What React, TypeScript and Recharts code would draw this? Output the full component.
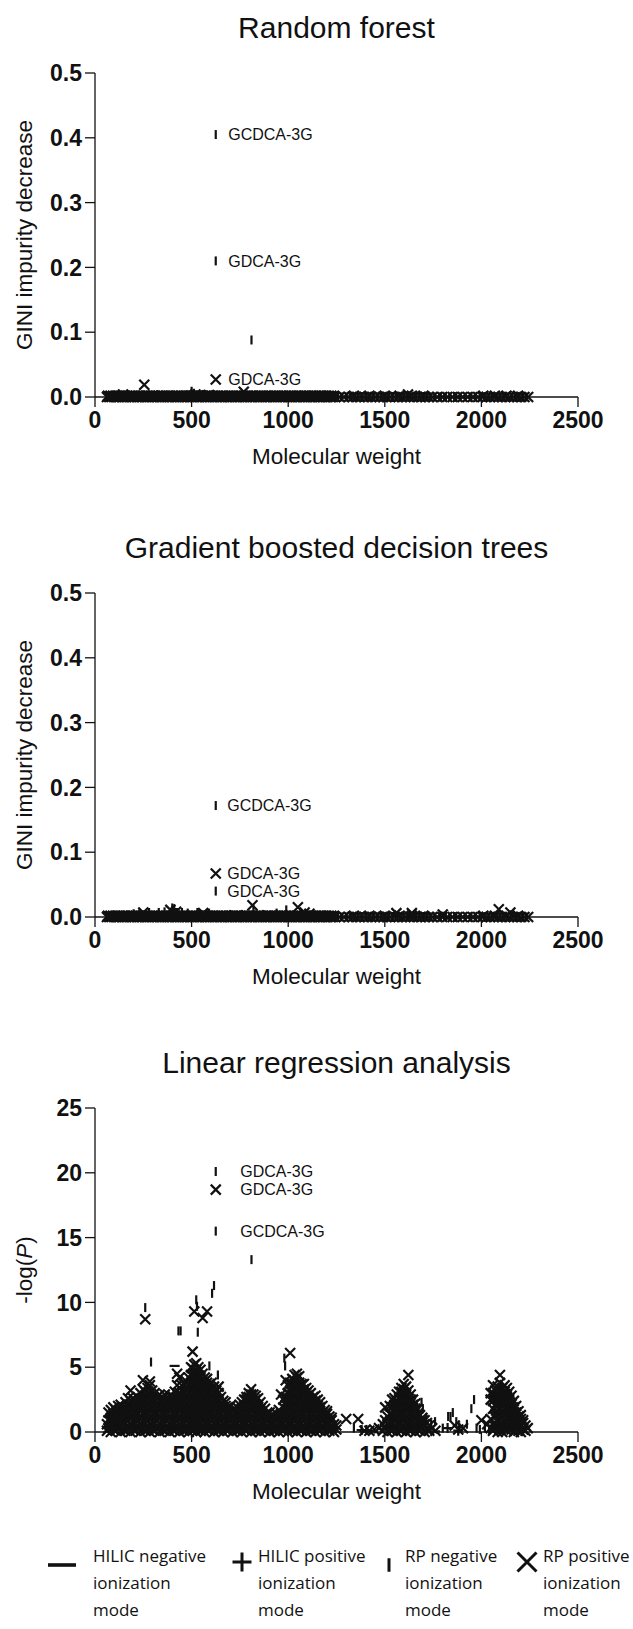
import React from "react";
import { ScatterChart, Scatter, XAxis, YAxis, LabelList, Label } from "recharts";

// axis ticks
const mwTicks = [0, 500, 1000, 1500, 2000, 2500];
const giniTicks = [0, 0.1, 0.2, 0.3, 0.4, 0.5];
const logPTicks = [0, 5, 10, 15, 20, 25];

// features with ~zero importance in both tree models (molecular weight only)
const bandRpPos = [
  62, 74, 85, 99, 112, 124, 139, 151, 163, 178, 190, 203, 217, 229, 242, 256, 268, 281, 295, 307,
  320, 334, 346, 359, 373, 385, 398, 412, 424, 437, 451, 463, 476, 490, 502, 515, 529, 541, 554, 568,
  580, 593, 607, 619, 632, 646, 658, 671, 685, 697, 710, 724, 736, 749, 763, 775, 788, 802, 814, 827,
  841, 853, 866, 880, 892, 905, 919, 931, 944, 958, 970, 983, 997, 1009, 1022, 1036, 1048, 1061, 1075,
  1087, 1100, 1114, 1126, 1139, 1153, 1165, 1178, 1192, 1204, 1217, 1231, 1243, 1266, 1288, 1314,
  1333, 1352, 1371, 1393, 1412, 1431, 1450, 1472, 1491, 1510, 1529, 1551, 1570, 1589, 1608, 1630,
  1649, 1668, 1687, 1709, 1728, 1747, 1771, 1797, 1823, 1851, 1877, 1903, 1929, 1955, 1983, 2006,
  2027, 2046, 2065, 2087, 2106, 2125, 2144, 2166, 2185, 2204, 2223, 2242,
];
// second group, importance ~0.002
const bandRpPosLow = [
  67, 80, 93, 105, 118, 131, 146, 157, 169, 184, 196, 209, 223, 235, 248, 262, 274, 287, 301, 313,
  327, 340, 352, 366, 379, 391, 404, 418, 430, 444, 457, 469, 482, 496, 508, 521, 535, 547, 560, 574,
  586, 599, 613, 625, 638, 652, 664, 677, 691, 703, 716, 730, 742, 755, 769, 781, 794, 808, 820, 833,
  847, 859, 872, 886, 898, 911, 925, 937, 950, 964, 976, 989, 1003, 1015, 1028, 1042, 1054, 1067,
  1081, 1093, 1106, 1120, 1132, 1145, 1159, 1171, 1184, 1198, 1210, 1223, 1237, 1340, 1420, 1500,
  1577, 1640, 1700, 2010, 2070, 2130, 2190,
];
const bandRpNeg = [
  68, 93, 118, 145, 171, 196, 223, 249, 274, 301, 327, 352, 379, 405, 430, 457, 483, 508, 535, 561,
  586, 613, 639, 664, 691, 717, 742, 769, 795, 820, 847, 873, 898, 925, 951, 976, 1003, 1029, 1054,
  1081, 1107, 1132, 1159, 1185, 1210, 1237, 1278, 1301, 1323, 1344, 1362, 1382, 1402, 1421, 1441,
  1460, 1481, 1500, 1520, 1540, 1560, 1579, 1599, 1619, 1639, 1658, 1678, 1698, 1718, 1738, 1759,
  1784, 1790, 1810, 1816, 1836, 1864, 1870, 1890, 1916, 1942, 1948, 1968, 1994, 2016, 2036, 2056,
  2076, 2096, 2116, 2135, 2155, 2175, 2195, 2214, 2233,
];
const bandHilicNeg = [
  80, 130, 185, 240, 290, 345, 395, 450, 505, 560, 610, 665, 720, 775, 830, 885, 940, 995, 1050,
  1105, 1160, 1215, 1300, 1460, 1620, 1780, 1940, 2100,
];
const bandHilicPos = [
  105, 160, 215, 265, 320, 370, 425, 480, 530, 585, 640, 695, 750, 805, 860, 910, 965, 1020, 1075,
  1130, 1185, 1240, 1380, 1540, 1700, 1860, 2020, 2180,
];

// random forest: [mw, importance]
const rfRpPos = [[145, 0.004], [255, 0.019], [520, 0.004], [770, 0.008], [1620, 0.004], [300, 0.002], [590, 0.003]];
const rfRpNeg = [[810, 0.088], [470, 0.003], [560, 0.004]];
const rfHilicPos = [[500, 0.008], [512, 0.005]];
const rfTagged = [
  { mw: 625, v: 0.405, kind: "rpNeg", tag: "GCDCA-3G" },
  { mw: 625, v: 0.21, kind: "rpNeg", tag: "GDCA-3G" },
  { mw: 625, v: 0.027, kind: "rpPos", tag: "GDCA-3G" },
];

// gradient boosted trees: [mw, importance]
const gbRpPos = [
  [250, 0.007], [390, 0.011], [420, 0.008], [560, 0.006], [815, 0.018], [1050, 0.015], [1085, 0.007],
  [1110, 0.005], [1560, 0.006], [1640, 0.006], [1800, 0.004], [2090, 0.012], [2150, 0.007],
];
const gbRpNeg = [
  [200, 0.005], [230, 0.006], [330, 0.007], [360, 0.008], [400, 0.014], [450, 0.007], [480, 0.006],
  [540, 0.005], [590, 0.006], [700, 0.004], [760, 0.004], [820, 0.012], [870, 0.004], [940, 0.006],
  [990, 0.011],
];
const gbHilicPos = [[280, 0.006], [410, 0.012], [530, 0.006]];
const gbTagged = [
  { mw: 625, v: 0.172, kind: "rpNeg", tag: "GCDCA-3G" },
  { mw: 625, v: 0.067, kind: "rpPos", tag: "GDCA-3G" },
  { mw: 625, v: 0.04, kind: "rpNeg", tag: "GDCA-3G" },
];

// linear regression: rows of [mw, -log(P) values...]
const lrRpPos = [
  [62, 0.1, 0.6], [70, 0.3, 0.9, 1.5], [82, 0.0, 0.5, 1.1, 1.7], [95, 0.2, 0.8, 1.4, 1.9],
  [108, 0.1, 0.6, 1.2, 1.7], [120, 0.3, 0.9, 1.5, 2.0], [133, 0.0, 0.5, 1.1, 1.6, 2.1],
  [146, 0.2, 0.8, 1.4, 1.9], [158, 0.1, 0.7, 1.3, 1.8, 2.3], [171, 0.3, 0.9, 1.5, 2.1, 2.6],
  [184, 0.0, 0.6, 1.2, 1.8, 2.4, 3.2], [197, 0.2, 0.8, 1.4, 2.0, 2.6], [210, 0.1, 0.7, 1.3, 1.9, 2.4],
  [222, 0.3, 0.9, 1.5, 2.1, 2.7], [235, 0.0, 0.6, 1.2, 1.8, 2.4, 3.0], [248, 0.2, 0.8, 1.4, 2.0, 2.6, 3.3, 4.0],
  [260, 0.1, 0.7, 1.3, 1.9, 2.5, 3.1, 8.7], [272, 0.3, 0.9, 1.5, 2.1, 2.7, 3.4],
  [284, 0.0, 0.6, 1.2, 1.8, 2.4, 3.0, 3.6, 3.9], [296, 0.2, 0.8, 1.4, 2.0, 2.6, 3.2],
  [309, 0.1, 0.7, 1.3, 1.9, 2.5, 3.0], [322, 0.3, 0.9, 1.5, 2.1, 2.7], [335, 0.0, 0.6, 1.2, 1.8, 2.4, 2.9],
  [348, 0.2, 0.8, 1.4, 2.0, 2.6], [361, 0.1, 0.7, 1.3, 1.9, 2.5, 2.9], [374, 0.3, 0.9, 1.5, 2.1, 2.5],
  [387, 0.0, 0.6, 1.2, 1.8, 2.4, 2.8], [400, 0.2, 0.8, 1.4, 2.0, 2.6, 2.8], [413, 0.1, 0.7, 1.3, 1.9, 2.5, 3.1],
  [425, 0.3, 0.9, 1.5, 2.1, 2.7, 3.6, 4.5], [437, 0.0, 0.6, 1.2, 1.8, 2.4, 3.0, 4.2],
  [449, 0.2, 0.8, 1.4, 2.0, 2.6, 3.2, 3.6], [461, 0.1, 0.7, 1.3, 1.9, 2.5, 3.1, 3.7],
  [473, 0.3, 0.9, 1.5, 2.1, 2.7, 3.3, 3.9], [485, 0.0, 0.6, 1.2, 1.8, 2.4, 3.0, 3.6, 4.2],
  [497, 0.2, 0.8, 1.4, 2.0, 2.6, 3.2, 3.8, 4.4, 5.0], [505, 0.1, 0.7, 1.3, 1.9, 2.5, 3.1, 3.7, 4.3, 4.9, 6.2],
  [514, 0.3, 0.9, 1.5, 2.1, 2.7, 3.3, 3.9, 4.5, 5.2, 9.3], [524, 0.0, 0.6, 1.2, 1.8, 2.4, 3.0, 3.6, 4.2, 4.8, 5.3],
  [535, 0.2, 0.8, 1.4, 2.0, 2.6, 3.2, 3.8, 4.4, 5.0], [546, 0.1, 0.7, 1.3, 1.9, 2.5, 3.1, 3.7, 4.3, 4.8],
  [557, 0.3, 0.9, 1.5, 2.1, 2.7, 3.3, 3.9, 4.5, 8.8], [568, 0.0, 0.6, 1.2, 1.8, 2.4, 3.0, 3.6, 4.2],
  [580, 0.2, 0.8, 1.4, 2.0, 2.6, 3.2, 3.8, 4.1, 9.3], [592, 0.1, 0.7, 1.3, 1.9, 2.5, 3.1, 3.7],
  [604, 0.3, 0.9, 1.5, 2.1, 2.7, 3.3, 3.8], [616, 0.0, 0.6, 1.2, 1.8, 2.4, 3.0, 3.5],
  [628, 0.2, 0.8, 1.4, 2.0, 2.6, 3.2], [640, 0.1, 0.7, 1.3, 1.9, 2.5, 3.0, 3.5], [652, 0.3, 0.9, 1.5, 2.1, 2.7],
  [664, 0.0, 0.6, 1.2, 1.8, 2.4], [676, 0.2, 0.8, 1.4, 2.0, 2.3], [688, 0.1, 0.7, 1.3, 1.9],
  [700, 0.3, 0.9, 1.5, 2.0], [712, 0.0, 0.6, 1.2, 1.7], [724, 0.2, 0.8, 1.4, 1.8], [736, 0.1, 0.7, 1.3, 1.9],
  [748, 0.3, 0.9, 1.5, 2.1], [760, 0.0, 0.6, 1.2, 1.8, 2.3], [772, 0.2, 0.8, 1.4, 2.0, 2.5],
  [784, 0.1, 0.7, 1.3, 1.9, 2.5, 2.7], [796, 0.3, 0.9, 1.5, 2.1, 2.7, 3.0], [808, 0.0, 0.6, 1.2, 1.8, 2.4, 2.9, 3.3],
  [820, 0.2, 0.8, 1.4, 2.0, 2.6, 2.9], [832, 0.1, 0.7, 1.3, 1.9, 2.5, 2.8], [844, 0.3, 0.9, 1.5, 2.1, 2.6],
  [856, 0.0, 0.6, 1.2, 1.8, 2.3], [868, 0.2, 0.8, 1.4, 2.0], [880, 0.1, 0.7, 1.3, 1.8], [892, 0.3, 0.9, 1.5],
  [904, 0.0, 0.6, 1.2, 1.5], [916, 0.2, 0.8, 1.3], [928, 0.1, 0.7, 1.2], [940, 0.3, 0.9, 1.4],
  [952, 0.0, 0.6, 1.2, 1.7], [963, 0.2, 0.8, 1.4, 2.9], [975, 0.1, 0.7, 1.3, 1.9, 2.5],
  [987, 0.3, 0.9, 1.5, 2.1, 2.7, 4.0], [998, 0.0, 0.6, 1.2, 1.8, 2.4, 3.0, 3.6],
  [1010, 0.2, 0.8, 1.4, 2.0, 2.6, 3.2, 3.8, 6.1], [1021, 0.1, 0.7, 1.3, 1.9, 2.5, 3.1, 3.7, 4.1],
  [1033, 0.3, 0.9, 1.5, 2.1, 2.7, 3.3, 3.9, 4.4], [1045, 0.0, 0.6, 1.2, 1.8, 2.4, 3.0, 3.6, 4.2, 4.5],
  [1057, 0.2, 0.8, 1.4, 2.0, 2.6, 3.2, 3.8, 4.3], [1069, 0.1, 0.7, 1.3, 1.9, 2.5, 3.1, 3.7],
  [1081, 0.3, 0.9, 1.5, 2.1, 2.7, 3.3, 3.7], [1093, 0.0, 0.6, 1.2, 1.8, 2.4, 3.0, 3.4],
  [1105, 0.2, 0.8, 1.4, 2.0, 2.6, 3.2], [1117, 0.1, 0.7, 1.3, 1.9, 2.5, 3.0], [1129, 0.3, 0.9, 1.5, 2.1, 2.7],
  [1141, 0.0, 0.6, 1.2, 1.8, 2.4, 2.8], [1153, 0.2, 0.8, 1.4, 2.0, 2.5], [1165, 0.1, 0.7, 1.3, 1.9, 2.3],
  [1177, 0.3, 0.9, 1.5, 2.0], [1189, 0.0, 0.6, 1.2, 1.7], [1201, 0.2, 0.8, 1.4, 1.6], [1213, 0.1, 0.7, 1.2],
  [1225, 0.3, 0.9, 1.1], [1237, 0.0, 0.6], [1249, 0.2, 0.5], [1300, 1.0], [1362, 1.0], [1395, 0.1],
  [1420, 0.1], [1445, 0.2], [1470, 0.3], [1490, 0.1, 0.6], [1502, 0.3, 0.9, 1.9], [1514, 0.0, 0.6, 1.2],
  [1526, 0.2, 0.8, 1.4, 2.0], [1538, 0.1, 0.7, 1.3, 1.9, 2.5], [1550, 0.3, 0.9, 1.5, 2.1, 2.6],
  [1562, 0.0, 0.6, 1.2, 1.8, 2.4, 2.9], [1574, 0.2, 0.8, 1.4, 2.0, 2.6, 3.1],
  [1586, 0.1, 0.7, 1.3, 1.9, 2.5, 3.1, 3.4], [1598, 0.3, 0.9, 1.5, 2.1, 2.7, 3.3, 3.7],
  [1610, 0.0, 0.6, 1.2, 1.8, 2.4, 3.0, 3.5], [1622, 0.2, 0.8, 1.4, 2.0, 2.6, 3.2, 4.4],
  [1634, 0.1, 0.7, 1.3, 1.9, 2.5, 2.9], [1646, 0.3, 0.9, 1.5, 2.1, 2.5], [1658, 0.0, 0.6, 1.2, 1.8, 2.2],
  [1670, 0.2, 0.8, 1.4, 1.8], [1682, 0.1, 0.7, 1.3], [1694, 0.3, 0.9, 1.1], [1706, 0.0, 0.6, 0.9],
  [1718, 0.2, 0.7], [1730, 0.1, 0.5], [1745, 0.3], [1762, 0.1], [1862, 0.5], [1880, 0.2], [1905, 0.3],
  [2000, 0.9], [2030, 0.6], [2048, 0.3, 1.0, 2.5, 3.0], [2060, 0.1, 1.8, 2.4, 3.0, 3.6],
  [2072, 0.4, 1.2, 2.0, 2.6, 3.2], [2084, 0.0, 0.8, 1.6, 2.3, 2.9, 3.5], [2096, 0.2, 1.1, 1.9, 2.6, 3.2, 3.8, 4.4],
  [2108, 0.0, 0.7, 1.5, 2.2, 2.8, 3.4], [2120, 0.3, 1.0, 1.8, 2.5, 3.1, 3.6], [2132, 0.1, 0.8, 1.6, 2.3, 2.9, 3.4],
  [2144, 0.4, 1.2, 1.9, 2.6, 3.1], [2156, 0.2, 0.9, 1.6, 2.2, 2.8], [2168, 0.0, 0.6, 1.3, 1.9, 2.4],
  [2180, 0.3, 0.9, 1.5, 2.0], [2192, 0.1, 0.7, 1.2, 1.6], [2204, 0.0, 0.5, 1.0, 1.3], [2216, 0.2, 0.7, 0.9],
  [2228, 0.1, 0.5], [2240, 0.3],
];
const lrRpNeg = [
  [260, 9.6], [290, 5.4], [432, 7.8], [443, 7.8], [524, 10.2], [528, 9.7], [532, 7.7], [592, 5.1],
  [606, 10.7], [616, 11.3], [636, 4.4], [810, 13.3], [980, 5.7], [984, 5.1], [1340, 0.3], [1405, 0.2],
  [1690, 2.3], [1697, 1.8], [1715, 1.1], [1740, 0.6], [1760, 0.8], [1800, 0.3], [1828, 1.2], [1840, 1.2],
  [1852, 1.5], [1870, 0.8], [1885, 0.4], [1925, 0.6], [1948, 1.8], [1962, 2.5], [1975, 0.3], [1992, 0.2],
  [2018, 0.3], [2040, 0.2], [2110, 0.2], [2130, 0.4], [2190, 0.2],
  [66, 0.3, 1.0], [90, 0.4, 1.1, 1.6], [114, 0.3, 1.0, 1.6], [139, 0.4, 1.1, 1.8], [164, 0.3, 1.0, 1.7, 2.1],
  [190, 0.4, 1.1, 1.8, 2.3], [216, 0.3, 1.0, 1.7, 2.2], [241, 0.4, 1.1, 1.8, 2.5], [266, 0.3, 1.0, 1.7, 2.4, 3.0],
  [293, 0.4, 1.1, 1.8, 2.5, 3.2], [315, 0.3, 1.0, 1.7, 2.4], [341, 0.4, 1.1, 1.8, 2.4], [367, 0.3, 1.0, 1.7, 2.2],
  [393, 0.4, 1.1, 1.8, 2.4], [419, 0.3, 1.0, 1.7, 2.4, 3.0], [447, 0.4, 1.1, 1.8, 2.5, 3.2],
  [467, 0.3, 1.0, 1.7, 2.4, 3.1, 3.5], [491, 0.4, 1.1, 1.8, 2.5, 3.2, 3.9], [509, 0.3, 1.0, 1.7, 2.4, 3.1, 3.8, 4.5],
  [529, 0.4, 1.1, 1.8, 2.5, 3.2, 3.9, 4.6], [551, 0.3, 1.0, 1.7, 2.4, 3.1, 3.8], [574, 0.4, 1.1, 1.8, 2.5, 3.2, 3.7],
  [598, 0.3, 1.0, 1.7, 2.4, 3.1], [622, 0.4, 1.1, 1.8, 2.5, 3.0], [646, 0.3, 1.0, 1.7, 2.4], [670, 0.4, 1.1, 1.8],
  [694, 0.3, 1.0, 1.6], [718, 0.4, 1.1], [742, 0.3, 1.0, 1.7], [766, 0.4, 1.1, 1.8], [790, 0.3, 1.0, 1.7, 2.3],
  [814, 0.4, 1.1, 1.8, 2.5], [838, 0.3, 1.0, 1.7, 2.2], [862, 0.4, 1.1, 1.7], [886, 0.3, 1.0, 1.4], [910, 0.4, 1.0],
  [934, 0.3, 0.9], [958, 0.4, 1.1], [981, 0.3, 1.0, 1.7, 2.2], [1004, 0.4, 1.1, 1.8, 2.5, 3.1],
  [1027, 0.3, 1.0, 1.7, 2.4, 3.1, 3.7], [1051, 0.4, 1.1, 1.8, 2.5, 3.2, 3.8], [1075, 0.3, 1.0, 1.7, 2.4, 3.1],
  [1099, 0.4, 1.1, 1.8, 2.5, 3.0], [1123, 0.3, 1.0, 1.7, 2.4], [1147, 0.4, 1.1, 1.8, 2.2], [1171, 0.3, 1.0, 1.7],
  [1195, 0.4, 1.1], [1219, 0.3, 0.8], [1243, 0.3], [1532, 0.3, 1.0], [1556, 0.4, 1.1, 1.8],
  [1580, 0.3, 1.0, 1.7, 2.4], [1604, 0.4, 1.1, 1.8, 2.5, 3.0], [1628, 0.3, 1.0, 1.7, 2.4], [1652, 0.4, 1.1, 1.8],
  [1676, 0.3, 1.0], [1700, 0.4], [2054, 0.6, 1.6], [2078, 0.5, 1.4, 2.3, 2.9], [2102, 0.4, 1.3, 2.1, 2.9, 3.5],
  [2126, 0.6, 1.5, 2.2, 2.9], [2150, 0.5, 1.3, 2.0], [2174, 0.4, 1.1, 1.6], [2198, 0.3, 0.8],
];
const lrHilicNeg = [[150, 1.2], [330, 2.1], [412, 5.1], [700, 1.0], [1395, 0.05], [1435, 0.1], [1760, 0.05]];
const lrHilicPos = [
  [76, 0.4, 1.2], [101, 0.3, 1.0, 1.6], [127, 0.5, 1.3, 1.9], [152, 0.2, 1.0, 1.7], [177, 0.4, 1.2, 2.0],
  [203, 0.3, 1.1, 1.9], [228, 0.5, 1.3, 2.1], [254, 0.2, 1.0, 1.8, 2.6], [278, 0.4, 1.2, 2.0, 2.8],
  [303, 0.3, 1.1, 1.9, 2.6], [328, 0.5, 1.3, 2.1], [354, 0.2, 1.0, 1.8, 2.4], [380, 0.4, 1.2, 2.0],
  [406, 0.3, 1.1, 1.9, 2.5], [431, 0.5, 1.3, 2.1, 2.9], [455, 0.2, 1.0, 1.8, 2.6, 3.3],
  [479, 0.4, 1.2, 2.0, 2.8, 3.5], [501, 0.3, 1.1, 1.9, 2.7, 3.5, 4.3], [519, 0.5, 1.3, 2.1, 2.9, 3.7, 4.6],
  [541, 0.2, 1.0, 1.8, 2.6, 3.4, 4.2], [563, 0.4, 1.2, 2.0, 2.8, 3.6], [586, 0.3, 1.1, 1.9, 2.7, 3.4],
  [610, 0.5, 1.3, 2.1, 2.9], [634, 0.2, 1.0, 1.8, 2.6], [658, 0.4, 1.2, 2.0], [682, 0.3, 1.1, 1.7],
  [706, 0.5, 1.3], [730, 0.2, 1.0, 1.6], [754, 0.4, 1.2, 1.9], [778, 0.3, 1.1, 1.9, 2.4],
  [802, 0.5, 1.3, 2.1, 2.7], [826, 0.2, 1.0, 1.8, 2.5], [850, 0.4, 1.2, 2.0], [874, 0.3, 1.1, 1.6],
  [898, 0.5, 1.2], [922, 0.2, 0.9], [946, 0.4, 1.1], [969, 0.3, 1.1, 1.7], [993, 0.5, 1.3, 2.1, 2.9],
  [1016, 0.2, 1.0, 1.8, 2.6, 3.4], [1039, 0.4, 1.2, 2.0, 2.8, 3.6], [1063, 0.3, 1.1, 1.9, 2.7, 3.5],
  [1087, 0.5, 1.3, 2.1, 2.9], [1111, 0.2, 1.0, 1.8, 2.6], [1135, 0.4, 1.2, 2.0, 2.5], [1159, 0.3, 1.1, 1.9],
  [1183, 0.5, 1.3], [1207, 0.2, 0.9], [1231, 0.4], [1380, 0.15], [1544, 0.4, 1.2, 2.0],
  [1568, 0.3, 1.1, 1.9, 2.5], [1592, 0.5, 1.3, 2.1, 2.8], [1616, 0.2, 1.0, 1.8, 2.6], [1640, 0.4, 1.2, 2.0],
  [1664, 0.3, 1.1, 1.6], [1688, 0.5, 0.9], [1825, 0.3], [1880, 0.1], [2066, 0.5, 1.5, 2.7],
  [2090, 0.3, 1.3, 2.2, 3.0], [2114, 0.6, 1.4, 2.4, 3.2], [2138, 0.4, 1.2, 2.1, 2.8], [2162, 0.2, 1.1, 1.8],
  [2186, 0.5, 1.1], [2210, 0.3],
];
const lrTagged = [
  { mw: 625, v: 20.1, kind: "rpNeg", tag: "GDCA-3G" },
  { mw: 625, v: 18.7, kind: "rpPos", tag: "GDCA-3G" },
  { mw: 625, v: 15.5, kind: "rpNeg", tag: "GCDCA-3G" },
];

const legendItems = [
  { kind: "hilicNeg", lines: ["HILIC negative", "ionization", "mode"] },
  { kind: "hilicPos", lines: ["HILIC positive", "ionization", "mode"] },
  { kind: "rpNeg", lines: ["RP negative", "ionization", "mode"] },
  { kind: "rpPos", lines: ["RP positive", "ionization", "mode"] },
];

const INK = "#111";
const FONT = "'Liberation Sans', Arial, sans-serif";

type Pt = { mw: number; v: number; kind?: string; tag?: string };

const fromRows = (rows: number[][]): Pt[] =>
  rows.flatMap(([mw, ...vals]) => vals.map((v) => ({ mw, v })));
const atLevel = (mws: number[], v: number): Pt[] => mws.map((mw) => ({ mw, v }));

function markPath(kind: string, cx: number, cy: number, s = 1) {
  if (kind === "hilicNeg") return `M${cx - 5 * s},${cy}H${cx + 5 * s}`;
  if (kind === "hilicPos") return `M${cx - 5 * s},${cy}H${cx + 5 * s}M${cx},${cy - 5 * s}V${cy + 5 * s}`;
  if (kind === "rpNeg") return `M${cx},${cy - 4.5 * s}V${cy + 4.5 * s}`;
  const r = 5 * s;
  return `M${cx - r},${cy - r}L${cx + r},${cy + r}M${cx - r},${cy + r}L${cx + r},${cy - r}`;
}

const shapeFor = (kind?: string) => (p: any) =>
  <path d={markPath(kind || p.payload.kind, p.cx, p.cy)} stroke={INK} strokeWidth={2.2} fill="none" />;

const yLabel = (content: React.ReactNode) => (props: any) => {
  const vb = props.viewBox;
  const x = vb.x - 11;
  const y = vb.y + vb.height / 2;
  return (
    <text x={x} y={y} transform={`rotate(-90 ${x} ${y})`} textAnchor="middle" dominantBaseline="central" fontSize={22.5} fill={INK}>
      {content}
    </text>
  );
};

type Layer = { kind: string; points: Pt[] };

function Panel(props: {
  top: number; title: string; yTicks: number[]; yFmt: (v: number) => string;
  yTitle: React.ReactNode; layers: Layer[]; tagged: Pt[]; tagOffset: number;
}) {
  const { top, title, yTicks, yFmt, yTitle, layers, tagged, tagOffset } = props;
  const yMax = yTicks[yTicks.length - 1];
  const axisLine = { stroke: INK, strokeWidth: 1.3 };
  return (
    <div style={{ position: "absolute", left: 0, top, width: 633, height: 480 }}>
      <div style={{ position: "absolute", left: 95, width: 483, top: 10, textAlign: "center", fontSize: 30, lineHeight: "36px", color: INK }}>
        {title}
      </div>
      <ScatterChart width={633} height={480} margin={{ top: 73, right: 55, bottom: 53, left: 35 }}>
        <XAxis type="number" dataKey="mw" domain={[0, 2500]} ticks={mwTicks} interval={0} height={30}
          tickSize={10} tickMargin={5} axisLine={axisLine} tickLine={axisLine}
          tick={{ fill: INK, fontSize: 23, fontWeight: 700 }}>
          <Label value="Molecular weight" position="bottom" offset={21} fontSize={22.5} fill={INK} />
        </XAxis>
        <YAxis type="number" dataKey="v" domain={[0, yMax]} ticks={yTicks} interval={0} width={60}
          tickSize={10} tickMargin={3} axisLine={axisLine} tickLine={axisLine} tickFormatter={yFmt}
          tick={{ fill: INK, fontSize: 23, fontWeight: 700 }}>
          <Label content={yLabel(yTitle)} />
        </YAxis>
        {layers.map((l, i) => (
          <Scatter key={i} data={l.points} shape={shapeFor(l.kind)} isAnimationActive={false} />
        ))}
        <Scatter data={tagged} shape={shapeFor()} isAnimationActive={false}>
          <LabelList dataKey="tag" position="right" offset={tagOffset} fontSize={16} fill={INK} />
        </Scatter>
      </ScatterChart>
    </div>
  );
}

function Legend() {
  const lefts = [45, 226, 373, 511];
  return (
    <div style={{ position: "absolute", left: 0, top: 1542, width: 633, height: 87, fontFamily: "'Open Sans', sans-serif", fontSize: 17, lineHeight: "27px", color: INK }}>
      {legendItems.map((it, i) => (
        <div key={it.kind} style={{ position: "absolute", left: lefts[i], top: 0, display: "flex" }}>
          <svg width={i === 0 ? 34 : 32} height={44} style={{ marginRight: i === 0 ? 14 : 0 }}>
            <path d={i === 0 ? markPath(it.kind, 17, 23, 2.8) : markPath(it.kind, 16, it.kind === "rpNeg" ? 23 : 20, it.kind === "rpNeg" ? 1.5 : 1.9)}
              stroke={INK} strokeWidth={i === 0 ? 3.6 : 3} fill="none" />
          </svg>
          <div>{it.lines.map((t) => <div key={t}>{t}</div>)}</div>
        </div>
      ))}
    </div>
  );
}

const treeBand: Layer[] = [
  { kind: "hilicNeg", points: atLevel(bandHilicNeg, 0) },
  { kind: "hilicPos", points: atLevel(bandHilicPos, 0) },
  { kind: "rpNeg", points: atLevel(bandRpNeg, 0) },
  { kind: "rpPos", points: atLevel(bandRpPosLow, 0.002) },
  { kind: "rpPos", points: atLevel(bandRpPos, 0) },
];

export default function App() {
  const gini = (v: number) => v.toFixed(1);
  const int = (v: number) => String(v);
  const giniTitle = "GINI impurity decrease";
  return (
    <div style={{ position: "relative", width: 633, height: 1629, background: "#fff", overflow: "hidden", fontFamily: FONT }}>
      <style>{"body{margin:0}"}</style>
      <Panel top={0} title="Random forest" yTicks={giniTicks} yFmt={gini} yTitle={giniTitle} tagOffset={8}
        layers={[...treeBand,
          { kind: "hilicPos", points: fromRows(rfHilicPos) },
          { kind: "rpNeg", points: fromRows(rfRpNeg) },
          { kind: "rpPos", points: fromRows(rfRpPos) }]}
        tagged={rfTagged} />
      <Panel top={520} title="Gradient boosted decision trees" yTicks={giniTicks} yFmt={gini} yTitle={giniTitle} tagOffset={7}
        layers={[...treeBand,
          { kind: "hilicPos", points: fromRows(gbHilicPos) },
          { kind: "rpNeg", points: fromRows(gbRpNeg) },
          { kind: "rpPos", points: fromRows(gbRpPos) }]}
        tagged={gbTagged} />
      <Panel top={1035} title="Linear regression analysis" yTicks={logPTicks} yFmt={int}
        yTitle={<>-log(<tspan fontStyle="italic">P</tspan>)</>} tagOffset={20}
        layers={[
          { kind: "hilicNeg", points: fromRows(lrHilicNeg) },
          { kind: "hilicPos", points: fromRows(lrHilicPos) },
          { kind: "rpNeg", points: fromRows(lrRpNeg) },
          { kind: "rpPos", points: fromRows(lrRpPos) }]}
        tagged={lrTagged} />
      <Legend />
    </div>
  );
}
